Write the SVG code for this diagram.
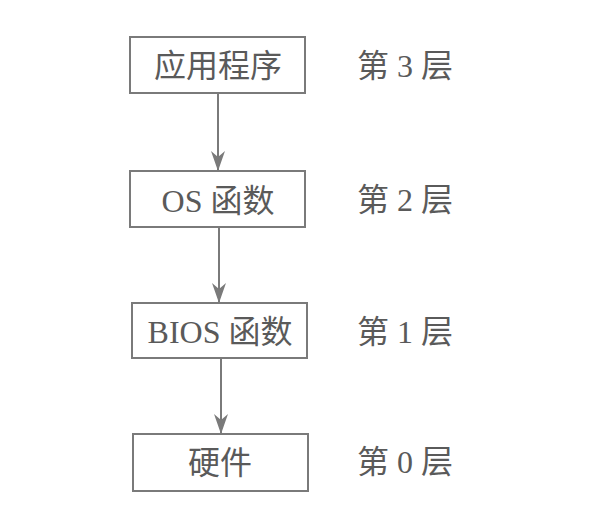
<svg xmlns="http://www.w3.org/2000/svg" width="592" height="512" viewBox="0 0 592 512">
<style>
.box{fill:#fff;stroke:#7a7a7a;stroke-width:2}
.t{font-family:"Liberation Serif","Noto Sans CJK SC",serif;font-size:32px;fill:#5a5a5a;text-anchor:middle;dominant-baseline:central}
.lbl{font-family:"Liberation Serif","Noto Sans CJK SC",serif;font-size:32px;fill:#5a5a5a;text-anchor:start;dominant-baseline:central}
.c{stroke:#7a7a7a;stroke-width:2;fill:none}
</style>
<defs>
<marker id="ah" viewBox="0 0 20 16" refX="19" refY="8" markerWidth="20" markerHeight="16" markerUnits="userSpaceOnUse" orient="auto">
<path d="M0,1 L20,8 L0,15 L6,8 Z" fill="#7a7a7a"/>
</marker>
</defs>
<rect width="592" height="512" fill="#fff"/>
<g id="connectors">
<line class="c" x1="218" y1="93" x2="218" y2="170" marker-end="url(#ah)"/>
<line class="c" x1="219" y1="227" x2="219" y2="302" marker-end="url(#ah)"/>
<line class="c" x1="221" y1="358" x2="221" y2="433" marker-end="url(#ah)"/>
</g>
<g id="n3"><rect class="box" x="130" y="37" width="175" height="56"/><text class="t" x="218" y="66">应用程序</text></g>
<g id="n2"><rect class="box" x="130" y="171" width="175" height="56"/><text class="t" x="218" y="201">OS 函数</text></g>
<g id="n1"><rect class="box" x="132" y="303" width="175" height="55"/><text class="t" x="220" y="332">BIOS 函数</text></g>
<g id="n0"><rect class="box" x="133" y="434" width="175" height="57"/><text class="t" x="220" y="463">硬件</text></g>
<g id="layers">
<text class="lbl" x="357" y="66">第 3 层</text>
<text class="lbl" x="357" y="200">第 2 层</text>
<text class="lbl" x="357" y="332">第 1 层</text>
<text class="lbl" x="357" y="462">第 0 层</text>
</g>
</svg>
